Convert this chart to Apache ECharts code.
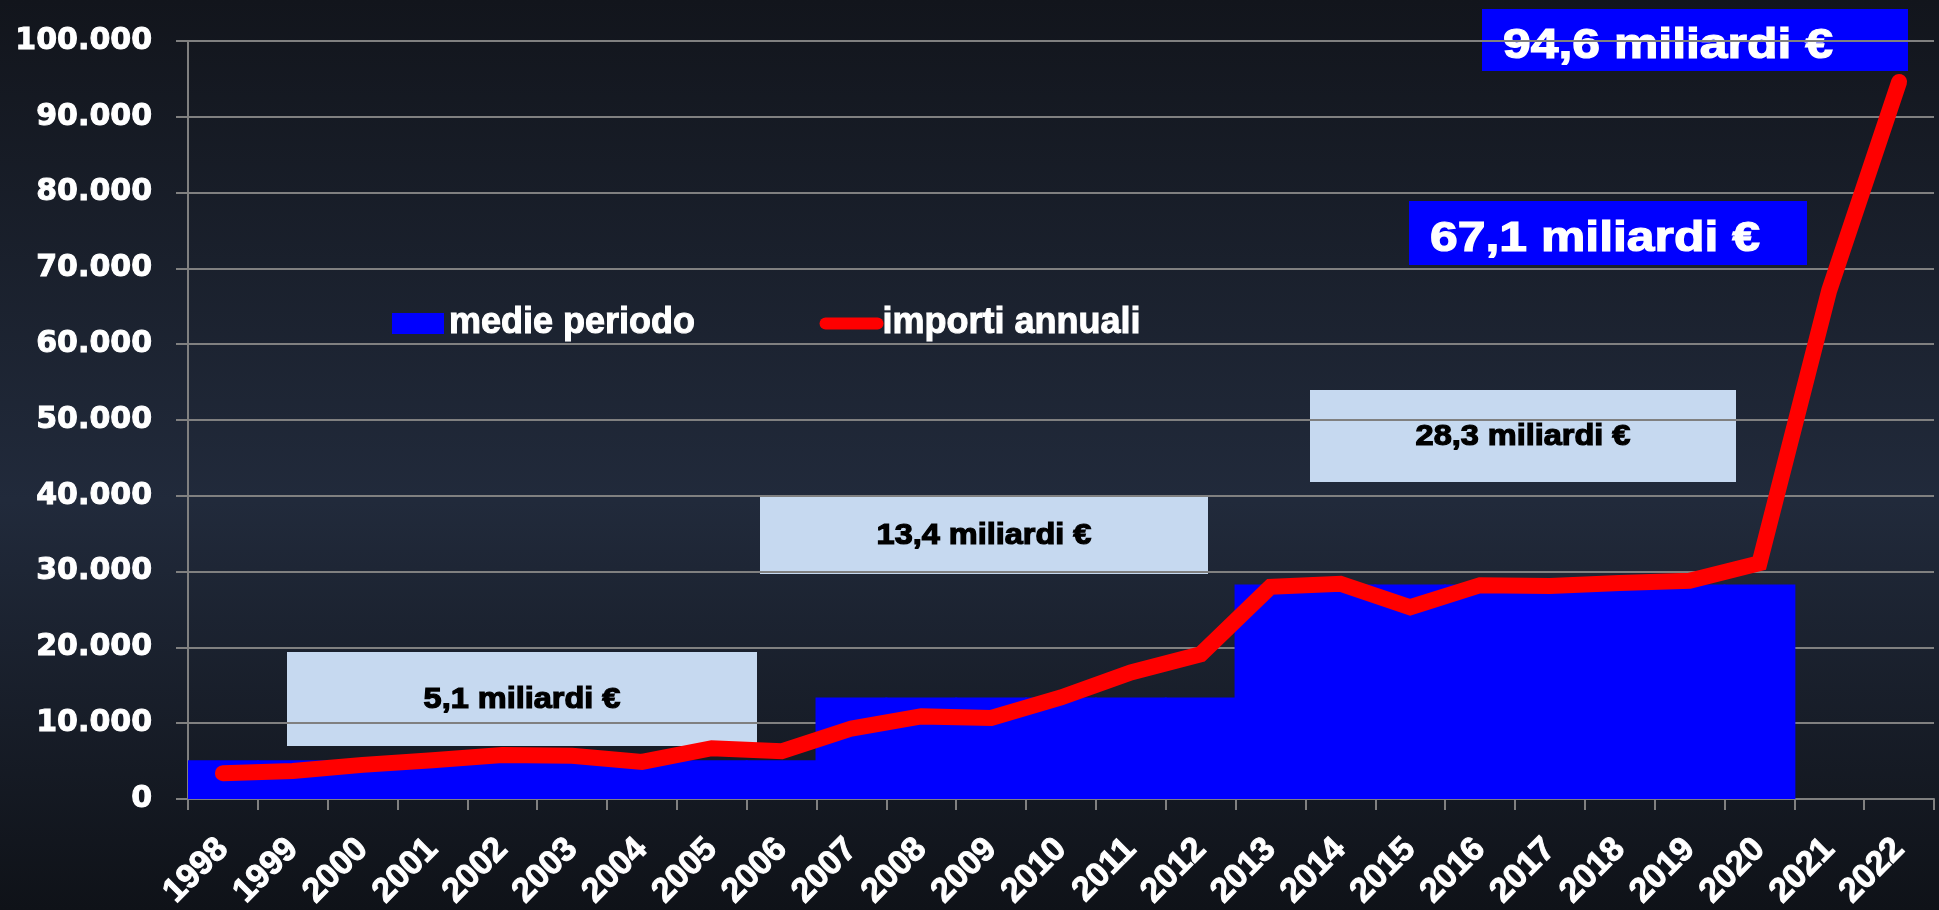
<!DOCTYPE html>
<html>
<head>
<meta charset="utf-8">
<script src="https://cdn.jsdelivr.net/npm/echarts@6.0.0/dist/echarts.min.js"></script>
<style>
  html, body { margin: 0; padding: 0; background: #000; }
  #chart { width: 1939px; height: 910px; }
</style>
</head>
<body>
<div id="chart"></div>
<script>
// anni
const years = ['1998', '1999', '2000', '2001', '2002', '2003', '2004', '2005', '2006', '2007', '2008', '2009',
  '2010', '2011', '2012', '2013', '2014', '2015', '2016', '2017', '2018', '2019', '2020', '2021', '2022']

// importi annuali (milioni di €)
const importiAnnuali = [3400, 3700, 4500, 5100, 5800, 5700, 4900, 6700, 6300, 9300, 10900, 10700,
  13400, 16700, 19100, 28000, 28400, 25300, 28200, 28100, 28500, 28800, 31100, 67100, 94600]

// medie dei tre periodi (1998-2006, 2007-2012, 2013-2020)
const mediePeriodo = [5100, 5100, 5100, 5100, 5100, 5100, 5100, 5100, 5100,
  13400, 13400, 13400, 13400, 13400, 13400,
  28300, 28300, 28300, 28300, 28300, 28300, 28300, 28300, null, null]

// testi dei riquadri
const noteMedie = ['5,1 miliardi €', '13,4 miliardi €', '28,3 miliardi €']
const noteAnni = ['67,1 miliardi €', '94,6 miliardi €']

const GRID_COLOR = '#808080'
const FONT = 'Liberation Sans, Arial, sans-serif'

function formatThousands(v) {
  return String(v).replace(/\B(?=(\d{3})+(?!\d))/g, '.')
}

// riquadro con testo (rettangolo + testo allargato come nell'originale)
function noteBox(x, y, w, h, text, opts) {
  const textStyle = {
    text,
    align: opts.left ? 'left' : 'center',
    verticalAlign: 'middle',
    fill: opts.color,
    stroke: opts.color,
    lineWidth: 1.2,
    font: `bold ${opts.size}px ${FONT}`
  }
  return {
    type: 'group', x, y, z: 100,
    children: [
      { type: 'rect', shape: { x: 0, y: 0, width: w, height: h }, style: { fill: opts.fill } },
      {
        type: 'text',
        x: opts.left ? opts.textX : w / 2,
        y: h / 2 + (opts.dy || 0),
        scaleX: opts.scaleX,
        style: textStyle
      }
    ]
  }
}

const chart = echarts.init(document.getElementById('chart'))

const light = { fill: '#c6d9f0', color: '#000', size: 29, scaleX: 1.12, dy: 1 }
const strong = { fill: '#0000ff', color: '#fff', size: 43, scaleX: 1.16, left: true, textX: 21, dy: 6 }

chart.setOption({
  animation: false,
  backgroundColor: {
    type: 'linear', x: 0, y: 0, x2: 0, y2: 1,
    colorStops: [
      { offset: 0, color: '#12151c' },
      { offset: 0.55, color: '#212a3b' },
      { offset: 1, color: '#0f1218' }
    ]
  },
  grid: { left: 188, right: 5, top: 41, bottom: 111, containLabel: false, outerBoundsMode: 'none' },
  legend: {
    left: 387,
    top: 300,
    itemWidth: 52,
    itemHeight: 21,
    itemGap: 124,
    textStyle: {
      color: '#fff', fontWeight: 'bold', fontSize: 36, fontFamily: FONT,
      textBorderColor: '#fff', textBorderWidth: 1
    },
    lineStyle: { width: 12, cap: 'round' },
    data: [
      { name: 'medie periodo', icon: 'rect' },
      { name: 'importi annuali', itemStyle: { opacity: 0 } }
    ]
  },
  xAxis: {
    type: 'category',
    data: years,
    boundaryGap: true,
    axisLine: { lineStyle: { color: GRID_COLOR, width: 2 } },
    axisTick: { show: true, length: 11, interval: 0, lineStyle: { color: GRID_COLOR, width: 2 } },
    axisLabel: {
      interval: 0, rotate: 45, margin: 45,
      color: '#fff', fontWeight: 'bold', fontSize: 34, fontFamily: FONT,
      textBorderColor: '#fff', textBorderWidth: 1
    },
    splitLine: { show: false }
  },
  yAxis: {
    type: 'value',
    min: 0,
    max: 100000,
    interval: 10000,
    axisLine: { show: true, lineStyle: { color: GRID_COLOR, width: 2 } },
    axisTick: { show: true, length: 12, lineStyle: { color: GRID_COLOR, width: 2 } },
    splitLine: { show: true, lineStyle: { color: GRID_COLOR, width: 2 } },
    axisLabel: {
      margin: 36,
      color: '#fff', fontWeight: 'bold', fontSize: 30, fontFamily: 'DejaVu Sans',
      textBorderColor: '#fff', textBorderWidth: 1,
      formatter: formatThousands
    }
  },
  series: [
    {
      name: 'medie periodo',
      type: 'bar',
      data: mediePeriodo,
      barWidth: '103%',
      itemStyle: { color: '#0000ff' },
      z: 2
    },
    {
      name: 'importi annuali',
      type: 'line',
      data: importiAnnuali,
      symbol: 'none',
      lineStyle: { color: '#ff0000', width: 16, cap: 'round', join: 'miter' },
      itemStyle: { color: '#ff0000' },
      z: 3
    }
  ],
  graphic: [
    noteBox(287, 652, 470, 94, noteMedie[0], light),
    noteBox(760, 496, 448, 78, noteMedie[1], light),
    noteBox(1310, 390, 426, 92, noteMedie[2], light),
    noteBox(1409, 201, 398, 64, noteAnni[0], strong),
    noteBox(1482, 9, 426, 62, noteAnni[1], strong)
  ]
})
</script>
</body>
</html>
